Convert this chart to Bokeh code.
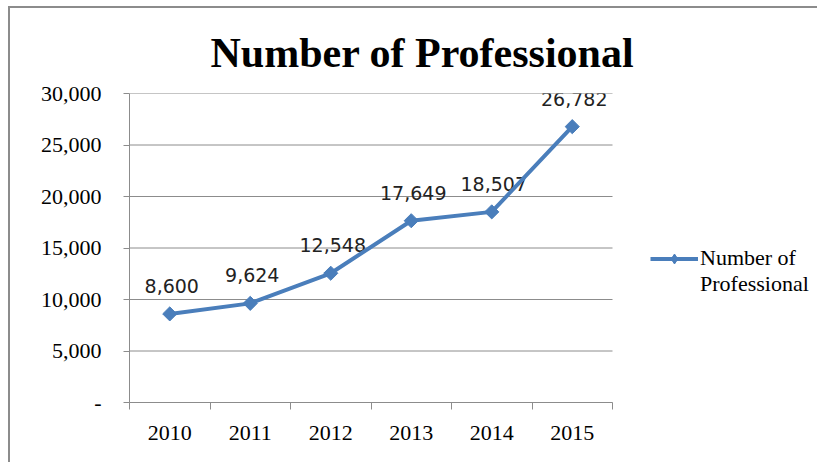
import numpy as np
from bokeh.plotting import figure
from bokeh.models import (Range1d, FixedTicker, NumeralTickFormatter, Legend, LegendItem,
                          ColumnDataSource, Title)
from bokeh.core.properties import value
from bokeh.embed import file_html
from bokeh.resources import INLINE

years = ["2010", "2011", "2012", "2013", "2014", "2015"]
professionals = [8600, 9624, 12548, 17649, 18507, 26782]
y_ticks = [0, 5000, 10000, 15000, 20000, 25000, 30000]
series_name = ["Number of", "Professional"]

xs = [i + 0.5 for i in range(len(years))]
labels = [f"{v:,}" for v in professionals]
src = ColumnDataSource(dict(x=xs, y=professionals, label=labels))

LINE = "#4a7ebb"
GRID = "#8c8c8c"
SERIF = "Liberation Serif"

# canvas is shifted by the chart-area border (10px left, 8px top)
W, H = 809, 456
LEFT, TOP, BOTTOM = 119, 85, 62
PLOT_W = 483  # width of the category area in px
x_end = len(years) * (W - LEFT) / PLOT_W

p = figure(width=W, height=H, output_backend="svg", toolbar_location=None,
           x_range=Range1d(0, x_end), y_range=Range1d(0, 30000),
           min_border_left=LEFT, min_border_right=0, min_border_top=TOP, min_border_bottom=BOTTOM)
p.styles = {"margin-left": "8px", "margin-top": "6px",
            "border-left": f"2px solid {GRID}", "border-top": f"2px solid {GRID}"}
p.outline_line_color = None
p.background_fill_color = "white"
p.border_fill_color = "white"
p.title.visible = False

t = Title(text="Number of Professional", align="left", text_font=SERIF,
          text_font_size="42px", text_font_style="bold", text_color="black",
          offset=81, standoff=36)
p.add_layout(t, "above")

# x axis
p.xaxis.ticker = FixedTicker(ticks=xs, minor_ticks=list(range(len(years) + 1)))
p.xaxis.bounds = (0, len(years))
p.xaxis.major_label_overrides = {x: yv for x, yv in zip(xs, years)}
p.xaxis.major_tick_out = 0
p.xaxis.major_tick_in = 0
p.xaxis.minor_tick_out = 7
p.xaxis.minor_tick_in = 0
p.xaxis.minor_tick_line_color = GRID
p.xaxis.axis_line_color = GRID
p.xaxis.major_label_text_font = SERIF
p.xaxis.major_label_text_font_size = "22px"
p.xaxis.major_label_text_color = "black"
p.xaxis.major_label_standoff = 16
p.xgrid.visible = False

# y axis
p.yaxis.ticker = FixedTicker(ticks=y_ticks, minor_ticks=[])
p.yaxis.formatter = NumeralTickFormatter(format="0,0")
p.yaxis.major_label_overrides = {0: "-"}
p.yaxis.major_tick_out = 6
p.yaxis.major_tick_in = 0
p.yaxis.major_tick_line_color = GRID
p.yaxis.axis_line_color = GRID
p.yaxis.major_label_text_font = SERIF
p.yaxis.major_label_text_font_size = "22px"
p.yaxis.major_label_text_color = "black"
p.yaxis.major_label_standoff = 22
p.ygrid.visible = False

# horizontal gridlines limited to the category area
p.segment(x0=0, x1=len(years), y0=y_ticks, y1=y_ticks, line_color=GRID, line_width=1)

# data labels (under line)
p.text(x="x", y="y", text="label", source=src, text_align="center", text_baseline="alphabetic",
       y_offset=-28, x_offset=2, text_font=value("DejaVu Sans"), text_font_size="19px",
       text_color="#222222")

r_line = p.line(x="x", y="y", source=src, line_color=LINE, line_width=4)
r_pts = p.scatter(x="x", y="y", source=src, marker="square", angle=np.pi / 4, size=10,
                  fill_color=LINE, line_color=LINE)
# legend-only renderers (hidden): diamond marker glyph and blank second row
r_leg_marker = p.scatter(x="x", y="y", source=src, marker="diamond", size=15,
                         fill_color=LINE, line_color=LINE, visible=False)
r_blank = p.line(x="x", y="y", source=src, line_alpha=0)

legend = Legend(items=[LegendItem(label=series_name[0], renderers=[r_line, r_leg_marker]),
                       LegendItem(label=series_name[1], renderers=[r_blank])],
                location=(521, 105), padding=0, margin=0, spacing=0,
                border_line_color=None, background_fill_alpha=0, inactive_fill_alpha=0,
                glyph_width=48, glyph_height=25, label_height=25, label_standoff=2,
                label_text_font=SERIF, label_text_font_size="22px", label_text_color="black")
p.add_layout(legend, "center")

open("out.html", "w").write(file_html(p, INLINE))
